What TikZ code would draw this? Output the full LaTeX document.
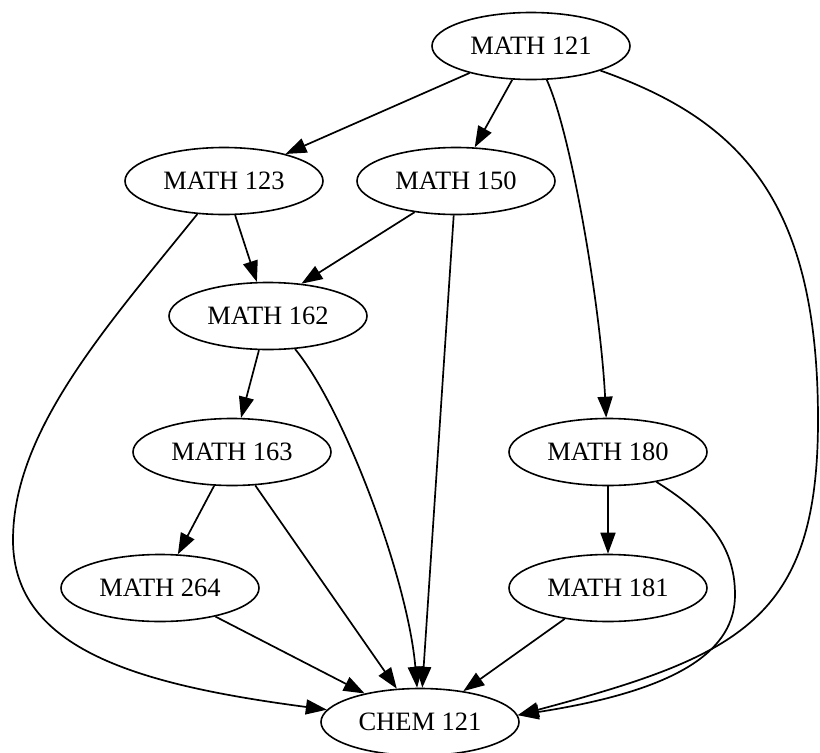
\documentclass[tikz,border=0pt]{standalone}
\usepackage{fontspec}
\setmainfont{Liberation Serif}
\usetikzlibrary{shapes.geometric,arrows.meta}
\begin{document}
\begin{tikzpicture}[x=1pt,y=-1pt,
  course/.style={draw, ellipse, minimum width=198pt, minimum height=67pt, inner sep=0pt, line width=1.6pt, font=\fontsize{26.5}{30}\selectfont},
  link/.style={line width=1.7pt, -{Triangle[length=21pt,width=15pt]}}]
\useasboundingbox (0,0) rectangle (820,753);
\node[course] (m121) at (531,46) {MATH 121};
\node[course] (m123) at (224,181) {MATH 123};
\node[course] (m150) at (456,181) {MATH 150};
\node[course] (m162) at (268,316) {MATH 162};
\node[course] (m163) at (232,452) {MATH 163};
\node[course] (m180) at (608,452) {MATH 180};
\node[course] (m264) at (160,588) {MATH 264};
\node[course] (m181) at (608,588) {MATH 181};
\node[course] (chem) at (420,722) {CHEM 121};
\draw[link] (m121) -- (m123);
\draw[link] (m121) -- (m150);
\draw[link] (m121) .. controls (570,130) and (600,300) .. (m180);
\draw[link] (m121) .. controls (740,120) and (818,200) .. (818,420) .. controls (818,620) and (739,656) .. (chem.4);
\draw[link] (m123) -- (m162);
\draw[link] (m123) .. controls (108,325) and (13,430) .. (13,540) .. controls (13,650) and (140,685) .. (chem);
\draw[link] (m150.217) -- (m162.44);
\draw[link] (m150) -- (chem);
\draw[link] (m162) -- (m163);
\draw[link] (m162) .. controls (345,410) and (408,580) .. (chem);
\draw[link] (m163) -- (m264);
\draw[link] (m163) -- (chem);
\draw[link] (m180) -- (m181);
\draw[link] (m180) .. controls (718,520) and (735,555) .. (735,595) .. controls (735,650) and (680,690) .. (chem.4);
\draw[link] (m264) -- (chem);
\draw[link] (m181) -- (chem);
\end{tikzpicture}
\end{document}
